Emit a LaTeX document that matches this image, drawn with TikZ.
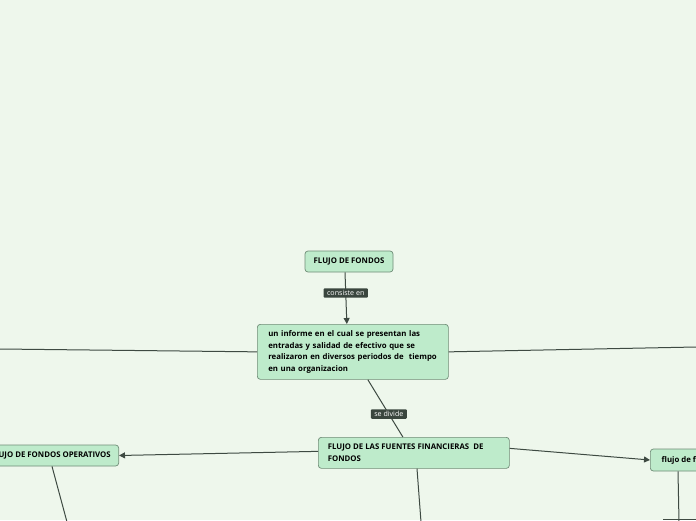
\documentclass[tikz,border=0pt]{standalone}
\usepackage{fontspec}
\setmainfont{Open Sans}
\usetikzlibrary{arrows.meta}
\definecolor{bg}{HTML}{EEF7EC}
\definecolor{nodefill}{HTML}{BEEBCB}
\definecolor{nodeline}{HTML}{6F8C76}
\definecolor{linec}{HTML}{3E4A42}
\definecolor{lblfill}{HTML}{3A463E}
\tikzset{
  topic/.style={draw=nodeline, fill=nodefill, rounded corners=3pt, line width=0.7pt,
    font=\fontsize{7.8}{11.5}\selectfont\bfseries, align=left, inner sep=0pt, anchor=north west},
  conn/.style={draw=linec, line width=1pt},
  arr/.style={conn, -{Triangle[length=6pt,width=6pt]}},
  lbl/.style={fill=lblfill, text=white, font=\fontsize{7.1}{8}\selectfont, inner xsep=3.5pt, inner ysep=2pt, rounded corners=1pt}
}
\begin{document}
\begin{tikzpicture}[x=1pt,y=-1pt]
\fill[bg] (0,0) rectangle (696,520);
\clip (0,0) rectangle (696,520);
\useasboundingbox (0,0) rectangle (696,520);

\node[topic, minimum width=88pt, minimum height=21pt, align=center, anchor=center] (ff) at (349,261.5) {FLUJO DE FONDOS};
\node[topic, minimum width=191pt, minimum height=55pt, text width=183pt, anchor=north west] (inf) at (257,324) {\hspace*{7pt}\parbox[c]{180pt}{un informe en el cual se presentan las\\entradas y salidad de efectivo que se\\realizaron en diversos periodos de\ \ tiempo\\en una organizacion}};
\node[topic, minimum width=191pt, minimum height=31pt, anchor=north west] (flu) at (318,437) {\hspace*{8pt}\parbox[c]{180pt}{FLUJO DE LAS FUENTES FINANCIERAS\ \ DE\\FONDOS}};
\node[topic, minimum height=21pt, anchor=east] (ope) at (119,455.5) {\hspace*{8pt}FLUJO DE FONDOS OPERATIVOS\hspace*{8pt}};
\node[topic, minimum height=22pt, minimum width=80pt, anchor=west] (fdf) at (650,460) {\hspace*{8.5pt}flujo de fondos\hspace*{8pt}};

\coordinate (l1) at (0,349);
\coordinate (r1) at (696,347);
\coordinate (b1) at (67,522);
\coordinate (b2) at (421,522);
\coordinate (b3) at (679,522);
\coordinate (h1) at (663,519.5);
\coordinate (h2) at (700,519.5);

\draw[arr] (ff.south) ++(-4,0) -- ([xshift=-6pt]inf.north) node[lbl, pos=0.4] {consiste en};
\draw[conn] (inf.west) -- (l1);
\draw[conn] ([yshift=0pt]inf.east) -- (r1);
\draw[conn] ([xshift=15pt]inf.south) -- ([xshift=-11pt]flu.north) node[lbl, pos=0.6] {se divide};
\draw[arr] (flu.west) ++(0,-1.5) -- (ope.east);
\draw[arr] ([yshift=4.5pt]flu.east) -- (fdf.west);
\draw[conn] ([xshift=-67pt]ope.south east) -- (b1);
\draw[conn] ([xshift=99pt]flu.south west) -- (b2);
\draw[conn] ([xshift=28pt]fdf.south west) -- (b3);
\draw[conn] (h1) -- (h2);
\end{tikzpicture}
\end{document}
